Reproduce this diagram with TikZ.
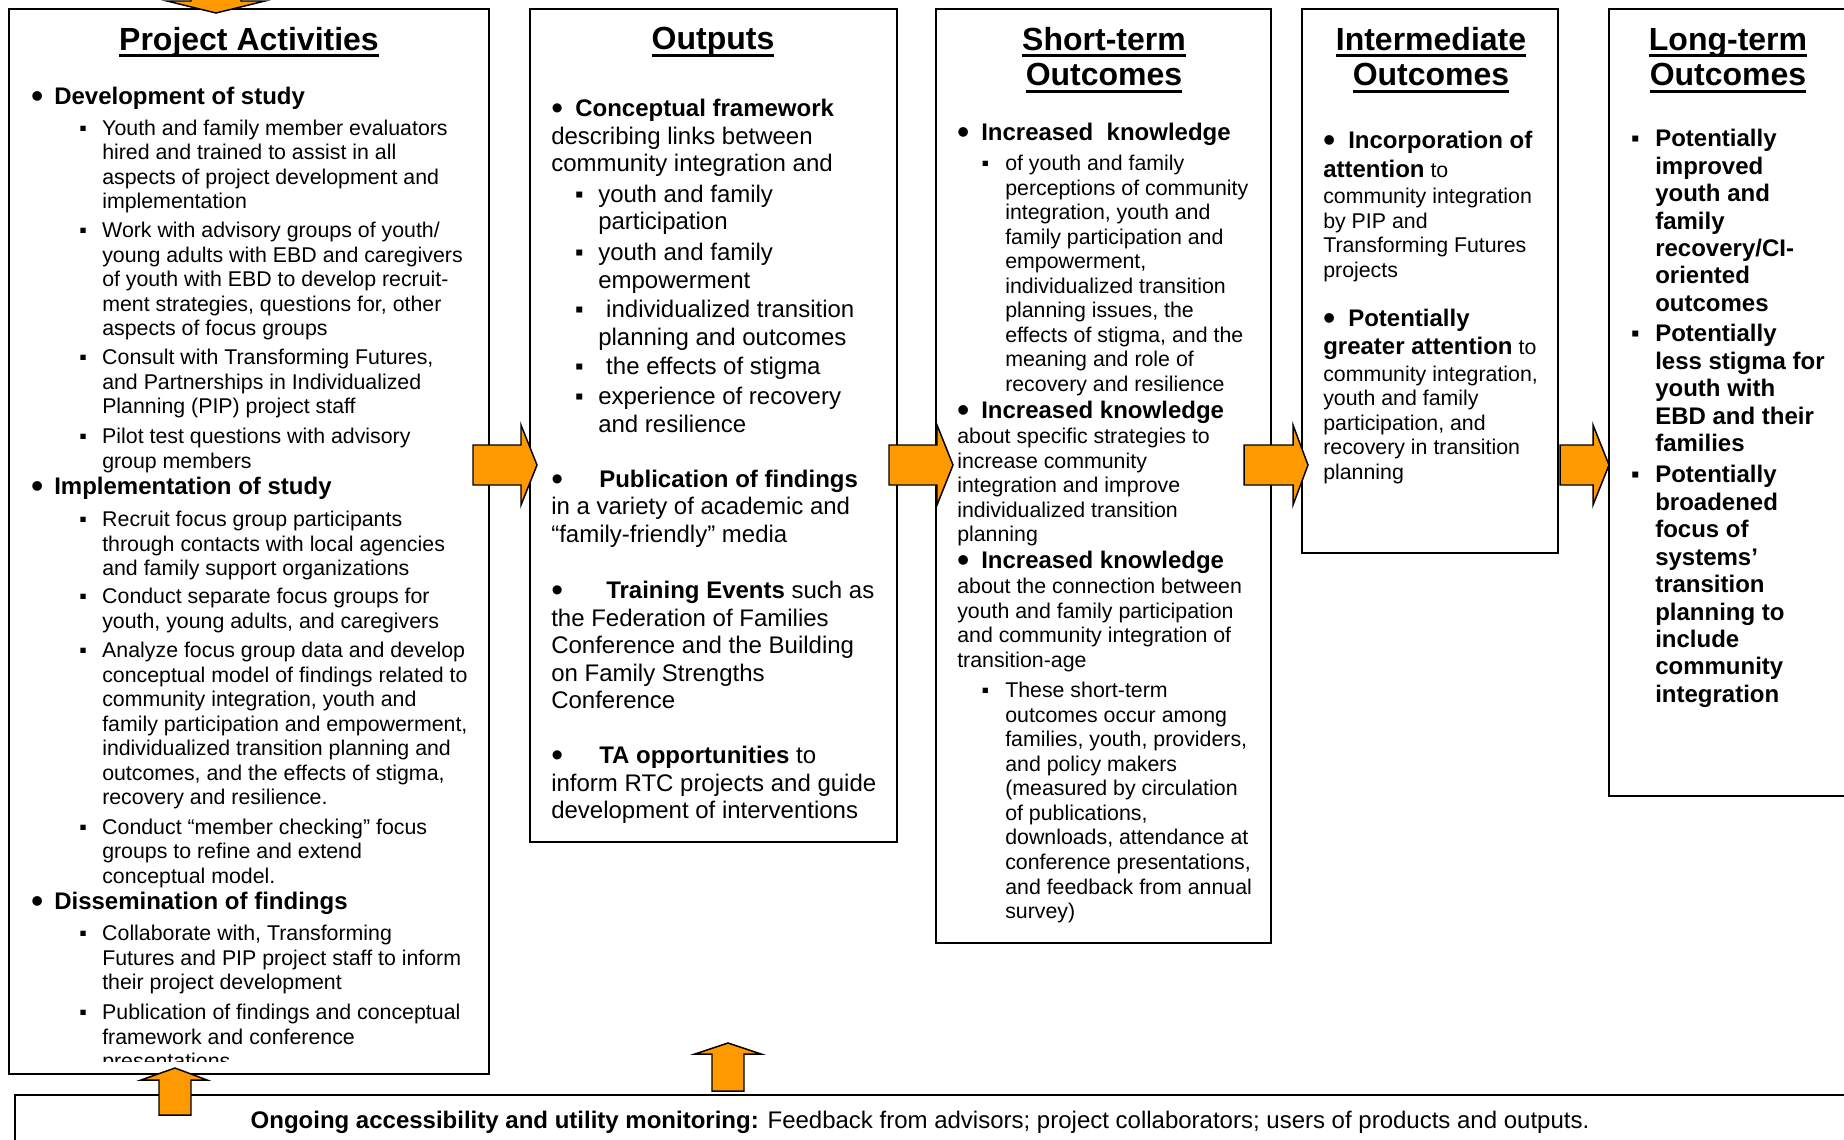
\documentclass[tikz,border=0pt]{standalone}
\usepackage{fontspec}
\usepackage{graphicx}
\setmainfont{Liberation Sans}
\usetikzlibrary{fit}
\definecolor{arrorange}{RGB}{255,153,0}
\newlength{\unitpx}
\setlength{\unitpx}{0.75pt}
\newcommand{\ttlul}[1]{\setbox0=\hbox{#1}\rlap{\rule[-5.25pt]{\wd0}{2.25pt}}\box0}
\newcommand{\bdot}{\raisebox{-0.13em}{\scalebox{1.4}{•}}}
\tikzset{
  box/.style={draw=black, line width=2pt, inner sep=0pt},
  blk/.style={draw=black, line width=1.1pt, fill=arrorange},
  ttl/.style={font=\fontsize{24}{26.5}\selectfont\bfseries, align=center, anchor=north, inner sep=0pt},
  hdr/.style={font=\fontsize{18}{20.6}\selectfont\bfseries, align=left, anchor=north west, inner sep=0pt},
  body/.style={font=\fontsize{16}{18.4}\selectfont, align=left, anchor=north west, inner sep=0pt},
  bigtext/.style={font=\fontsize{18}{20.6}\selectfont, align=left, anchor=north west, inner sep=0pt}
}
\begin{document}
\begin{tikzpicture}[x=0.75pt,y=-0.75pt]
 \useasboundingbox (0,0) rectangle (1844,1139);
 \node[box, fit={(9,9) (489,1074)}] (pa) {};
 \node[box, fit={(530,9) (897,842)}] (out) {};
 \node[box, fit={(936,9) (1271,943)}] (st) {};
 \node[box, fit={(1302,9) (1558,553)}] (im) {};
 \node[box, fit={(1609,9) (1849,796)}] (lt) {};
 \node[box, fit={(15,1095) (1850,1150)}] (fb) {};

 \node[ttl] (patitle) at (249,27) {\ttlul{Project Activities}};
 \node[hdr] (pah1) at (54,87) {\llap{\makebox[34\unitpx][c]{\bdot}}Development of study};
 \node[body] (pai1) at (102,119.5) {\llap{\makebox[38\unitpx][c]{▪}}Youth and family member evaluators\\hired and trained to assist in all\\aspects of project development and\\implementation};
 \node[body] (pai2) at (102,222) {\llap{\makebox[38\unitpx][c]{▪}}Work with advisory groups of youth/\\young adults with EBD and caregivers\\of youth with EBD to develop recruit-\\ment strategies, questions for, other\\aspects of focus groups};
 \node[body] (pai3) at (102,349) {\llap{\makebox[38\unitpx][c]{▪}}Consult with Transforming Futures,\\and Partnerships in Individualized\\Planning (PIP) project staff};
 \node[body] (pai4) at (102,428) {\llap{\makebox[38\unitpx][c]{▪}}Pilot test questions with advisory\\group members};
 \node[hdr] (pah2) at (54,477) {\llap{\makebox[34\unitpx][c]{\bdot}}Implementation of study};
 \node[body] (pai5) at (102,511) {\llap{\makebox[38\unitpx][c]{▪}}Recruit focus group participants\\through contacts with local agencies\\and family support organizations};
 \node[body] (pai6) at (102,588) {\llap{\makebox[38\unitpx][c]{▪}}Conduct separate focus groups for\\youth, young adults, and caregivers};
 \node[body] (pai7) at (102,642) {\llap{\makebox[38\unitpx][c]{▪}}Analyze focus group data and develop\\conceptual model of findings related to\\community integration, youth and\\family participation and empowerment,\\individualized transition planning and\\outcomes, and the effects of stigma,\\recovery and resilience.};
 \node[body] (pai8) at (102,818.5) {\llap{\makebox[38\unitpx][c]{▪}}Conduct “member checking” focus\\groups to refine and extend\\conceptual model.};
 \node[hdr] (pah3) at (54,892) {\llap{\makebox[34\unitpx][c]{\bdot}}Dissemination of findings};
 \node[body] (pai9) at (102,925) {\llap{\makebox[38\unitpx][c]{▪}}Collaborate with, Transforming\\Futures and PIP project staff to inform\\their project development};
 \begin{scope}
 \clip (9,9) rectangle (489,1061);
 \node[body] (pai10) at (102,1004) {\llap{\makebox[38\unitpx][c]{▪}}Publication of findings and conceptual\\framework and conference\\presentations};
 \end{scope}

 \node[ttl] (outtitle) at (713,27) {\ttlul{Outputs}};
 \node[bigtext] (oc1) at (551,99) {\makebox[12\unitpx][c]{\bdot}\hspace{12\unitpx}\textbf{Conceptual framework}\\describing links between\\community integration and};
 \node[bigtext] (ocs1) at (598,184.6) {\llap{\makebox[38\unitpx][c]{▪}}youth and family\\participation};
 \node[bigtext] (ocs2) at (598,243) {\llap{\makebox[38\unitpx][c]{▪}}youth and family\\empowerment};
 \node[bigtext] (ocs3) at (598,300) {\llap{\makebox[38\unitpx][c]{▪}}\hspace{8\unitpx}individualized transition\\planning and outcomes};
 \node[bigtext] (ocs4) at (598,357) {\llap{\makebox[38\unitpx][c]{▪}}\hspace{8\unitpx}the effects of stigma};
 \node[bigtext] (ocs5) at (598,387) {\llap{\makebox[38\unitpx][c]{▪}}experience of recovery\\and resilience};
 \node[bigtext] (oc2) at (551,469.6) {\makebox[12\unitpx][c]{\bdot}\hspace{36\unitpx}\textbf{Publication of findings}\\in a variety of academic and\\“family-friendly” media};
 \node[bigtext] (oc3) at (551,581) {\makebox[12\unitpx][c]{\bdot}\hspace{43\unitpx}\textbf{Training Events} such as\\the Federation of Families\\Conference and the Building\\on Family Strengths\\Conference};
 \node[bigtext] (oc4) at (551,746) {\makebox[12\unitpx][c]{\bdot}\hspace{36\unitpx}\textbf{TA opportunities} to\\inform RTC projects and guide\\development of interventions};

 \node[ttl] (sttitle) at (1104,27) {\ttlul{Short-term}\\\ttlul{Outcomes}};
 \node[hdr] (sth1) at (981,123) {\llap{\makebox[36\unitpx][c]{\bdot}}Increased\ \ knowledge};
 \node[body] (sti1) at (1005,155) {\llap{\makebox[40\unitpx][c]{▪}}of youth and family\\perceptions of community\\integration, youth and\\family participation and\\empowerment,\\individualized transition\\planning issues, the\\effects of stigma, and the\\meaning and role of\\recovery and resilience};
 \node[hdr] (sth2) at (981,401) {\llap{\makebox[36\unitpx][c]{\bdot}}Increased knowledge};
 \node[body] (stp2) at (957,428) {about specific strategies to\\increase community\\integration and improve\\individualized transition\\planning};
 \node[hdr] (sth3) at (981,551) {\llap{\makebox[36\unitpx][c]{\bdot}}Increased knowledge};
 \node[body] (stp3) at (957,578) {about the connection between\\youth and family participation\\and community integration of\\transition-age};
 \node[body] (sti3) at (1005,682) {\llap{\makebox[40\unitpx][c]{▪}}These short-term\\outcomes occur among\\families, youth, providers,\\and policy makers\\(measured by circulation\\of publications,\\downloads, attendance at\\conference presentations,\\and feedback from annual\\survey)};

 \node[ttl] (imtitle) at (1431,27) {\ttlul{Intermediate}\\\ttlul{Outcomes}};
 \node[hdr] (imh1) at (1348,131) {\llap{\makebox[38\unitpx][c]{\bdot}}Incorporation of};
 \node[body] (imp1) at (1323,160) {{\fontsize{18}{20.6}\selectfont\bfseries attention} to\\[1.5\unitpx]community integration\\by PIP and\\Transforming Futures\\projects};
 \node[hdr] (imh2) at (1348,309) {\llap{\makebox[38\unitpx][c]{\bdot}}Potentially};
 \node[body] (imp2) at (1323,337) {{\fontsize{18}{20.6}\selectfont\bfseries greater attention} to\\[2\unitpx]community integration,\\youth and family\\participation, and\\recovery in transition\\planning};

 \node[ttl] (lttitle) at (1728,28) {\ttlul{Long-term}\\\ttlul{Outcomes}};
 \node[hdr] (lti1) at (1655,129) {\llap{\makebox[40\unitpx][c]{▪}}Potentially\\improved\\youth and\\family\\recovery/CI-\\oriented\\outcomes};
 \node[hdr] (lti2) at (1655,324) {\llap{\makebox[40\unitpx][c]{▪}}Potentially\\less stigma for\\youth with\\EBD and their\\families};
 \node[hdr] (lti3) at (1655,465) {\llap{\makebox[40\unitpx][c]{▪}}Potentially\\broadened\\focus of\\systems’\\transition\\planning to\\include\\community\\integration};

 \node[font=\fontsize{18}{20.6}\selectfont, anchor=base, inner sep=0pt] (fbtxt) at (920,1128) {\textbf{Ongoing accessibility and utility monitoring:} Feedback from advisors; project collaborators; users of products and outputs.};

 \coordinate (a1) at (473,465);
 \coordinate (a2) at (889,465);
 \coordinate (a3) at (1244,465);
 \coordinate (a4) at (1560,465);
 \coordinate (u1) at (175,1115);
 \coordinate (u2) at (728,1091);
 \coordinate (d0) at (216,-10);
 \draw[blk] (a1) ++(0,-20) -- ++(48,0) -- ++(0,-20) -- ++(16,40) -- ++(-16,40) -- ++(0,-20) -- ++(-48,0) -- cycle;
 \draw[blk] (a2) ++(0,-20) -- ++(48,0) -- ++(0,-20) -- ++(16,40) -- ++(-16,40) -- ++(0,-20) -- ++(-48,0) -- cycle;
 \draw[blk] (a3) ++(0,-20) -- ++(49,0) -- ++(0,-20) -- ++(15,40) -- ++(-15,40) -- ++(0,-20) -- ++(-49,0) -- cycle;
 \draw[blk] (a4) ++(0,-20) -- ++(33,0) -- ++(0,-20) -- ++(16,40) -- ++(-16,40) -- ++(0,-20) -- ++(-33,0) -- cycle;
 \draw[blk] (u1) ++(-16,0) -- ++(0,-35) -- ++(-18,0) -- ++(34,-12) -- ++(32,12) -- ++(-16,0) -- ++(0,35) -- cycle;
 \draw[blk] (u2) ++(-16,0) -- ++(0,-37) -- ++(-17,0) -- ++(33,-11) -- ++(33,11) -- ++(-17,0) -- ++(0,37) -- cycle;
 \draw[blk] (d0) ++(-25,0) -- ++(0,11) -- ++(-24,0) -- ++(49,12) -- ++(49,-12) -- ++(-24,0) -- ++(0,-11) -- cycle;
\end{tikzpicture}
\end{document}
